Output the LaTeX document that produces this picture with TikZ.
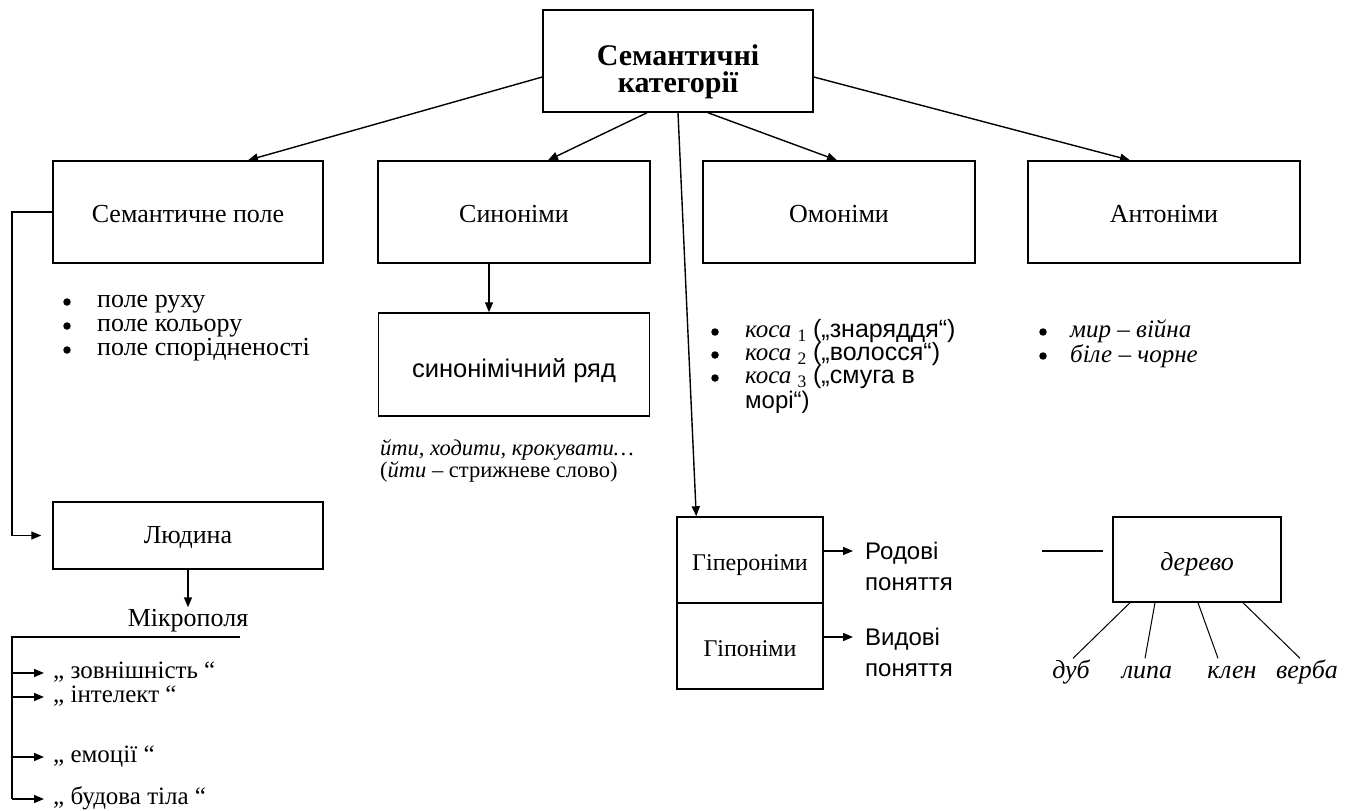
\documentclass[tikz,border=0pt]{standalone}
\usepackage{fontspec}
\setmainfont{Liberation Serif}
\newfontfamily\sansf{Liberation Sans}
\usetikzlibrary{arrows.meta,calc}
\begin{document}
\begin{tikzpicture}[x=1pt,y=-1pt,
  frame/.style={draw,line width=1.5pt,inner sep=0pt},
  lst/.style={inner sep=0pt,text height=16pt,text depth=5pt,font=\fontsize{26}{28}\selectfont},
  boxtxt/.style={text height=21pt,text depth=0pt},
  title/.style={inner sep=0pt,text height=20pt,text depth=6pt,font=\fontsize{30}{30}\selectfont\bfseries},
  sans/.style={lst,font=\fontsize{24}{28}\selectfont\sansf},
  itl/.style={lst,font=\fontsize{26}{28}\selectfont\itshape},
  bul/.style={circle,fill,inner sep=0pt,minimum size=7.5pt},
  arr/.style={line width=1.4pt,-{Triangle[length=10pt,width=8pt]}},
  link/.style={line width=1.4pt},
  twig/.style={line width=1pt}]
\path[fill=white] (0,0) rectangle (1358,811);
\useasboundingbox (0,0) rectangle (1358,811);

% root
\node[frame,minimum width=270pt,minimum height=102pt] (top) at (678,61) {};
\node[title] (topl1) at (678,58) {Семантичні};
\node[title] (topl2) at (678,85) {категорії};

% first row of categories
\node[frame,lst,boxtxt,minimum width=270pt,minimum height=102pt] (sp)  at (188,212)  {Семантичне поле};
\node[frame,lst,boxtxt,minimum width=272pt,minimum height=102pt] (syn) at (514,212)  {Синоніми};
\node[frame,lst,boxtxt,minimum width=272pt,minimum height=102pt] (hom) at (839,212)  {Омоніми};
\node[frame,lst,boxtxt,minimum width=272pt,minimum height=102pt] (ant) at (1164,212) {Антоніми};

\draw[arr] ([yshift=-16pt]top.west) -- ([xshift=60pt]sp.north);
\draw[arr] ([xshift=-31pt]top.south) -- ([xshift=34pt]syn.north);
\draw[arr] ([xshift=30pt]top.south) -- ([xshift=-2pt]hom.north);
\draw[arr] ([yshift=-16pt]top.east) -- ([xshift=-34pt]ant.north);

% semantic field examples
\node[bul] (sb1) at (67,302) {};
\node[bul] (sb2) at (67,326) {};
\node[bul] (sb3) at (67,350) {};
\node[lst,anchor=west] (f1) at (97,302) {поле руху};
\node[lst,anchor=west] (f2) at (97,326) {поле кольору};
\node[lst,anchor=west] (f3) at (97,350) {поле спорідненості};

% the field "Людина" and its microfields
\coordinate (spc) at (12,212);
\node[frame,lst,text height=18pt,text depth=3pt,minimum width=270pt,minimum height=67pt] (lud) at (188,535.5) {Людина};
\draw[arr,shorten >=11pt] (sp.west) -- (spc) |- (lud.west);
\node[lst] (mic) at (188,621) {Мікрополя};
\draw[arr,shorten >=3pt] (lud.south) -- (mic.north);

\coordinate (mk) at (12,637);
\coordinate (mkr) at (240,637);
\node[lst,anchor=west,font=\fontsize{25}{28}\selectfont] (m1) at (53,673) {„ зовнішність “};
\node[lst,anchor=west,font=\fontsize{25}{28}\selectfont] (m2) at (53,697) {„ інтелект “};
\node[lst,anchor=west,font=\fontsize{25}{28}\selectfont] (m3) at (53,757) {„ емоції “};
\node[lst,anchor=west,font=\fontsize{25}{28}\selectfont] (m4) at (53,799) {„ будова тіла “};
\draw[link] (mkr) -- (mk) -- (mk |- m4.west);
\foreach \m in {m1,m2,m3,m4}
  \draw[arr,shorten >=9pt] (mk |- \m.west) -- (\m.west);

% synonyms
\node[frame,sans,font=\fontsize{25.5}{28}\selectfont\sansf,text height=25pt,text depth=0pt,
      minimum width=271pt,minimum height=103pt] (row) at (514,364.5) {синонімічний ряд};
\draw[arr] ([xshift=-25pt]syn.south) -- ([xshift=-25pt]row.north);
\node[anchor=north west,inner sep=0pt,align=left,font=\fontsize{22.5}{20}\selectfont] (ex) at (380,439)
  {\textit{йти, ходити, крокувати…}\\(\textit{йти} – стрижневе слово)};

% homonyms
\node[bul] (ob1) at (715,332) {};
\node[bul] (ob2) at (715,355) {};
\node[bul] (ob3) at (715,378) {};
\node[lst,anchor=west,font=\fontsize{25}{28}\selectfont] (o1) at (745,332)
  {\textit{коса}~\textsubscript{1} {\sansf(„знаряддя“)}};
\node[lst,anchor=west,font=\fontsize{25}{28}\selectfont] (o2) at (745,355)
  {\textit{коса}~\textsubscript{2} {\sansf(„волосся“)}};
\node[lst,anchor=west,font=\fontsize{25}{28}\selectfont] (o3) at (745,378)
  {\textit{коса}~\textsubscript{3} {\sansf(„смуга в}};
\node[sans,anchor=west] (o4) at (745,403) {морі“)};

% antonyms
\node[bul] (ab1) at (1043,332) {};
\node[bul] (ab2) at (1043,356) {};
\node[itl,font=\fontsize{25}{28}\selectfont\itshape,anchor=west] (a1) at (1070,332) {мир – війна};
\node[itl,font=\fontsize{25}{28}\selectfont\itshape,anchor=west] (a2) at (1070,357) {біле – чорне};

% hyperonyms and hyponyms
\node[frame,lst,boxtxt,font=\fontsize{24}{28}\selectfont,minimum width=146pt,minimum height=86pt] (hyper) at (750,560) {Гіпероніми};
\node[frame,lst,boxtxt,font=\fontsize{24}{28}\selectfont,minimum width=146pt,minimum height=86pt] (hypo)  at (750,646) {Гіпоніми};
\draw[arr] (top.south) -- ([xshift=20pt]hyper.north west);

\node[sans,anchor=west] (r1) at (865,554) {Родові};
\node[sans,anchor=west] (r2) at (865,585) {поняття};
\node[sans,anchor=west] (v1) at (865,640) {Видові};
\node[sans,anchor=west] (v2) at (865,671) {поняття};
\draw[arr,shorten >=12pt] ($(hyper.east)+(0,-9)$) -- ($(hyper.east -| r1.west)+(0,-9)$);
\draw[arr,shorten >=12pt] ($(hypo.east)+(0,-9)$) -- ($(hypo.east -| v1.west)+(0,-9)$);

% example tree
\node[frame,itl,boxtxt,minimum width=168pt,minimum height=85pt] (der) at (1197,559.5) {дерево};
\coordinate (dl) at (1042,551);
\coordinate (dr) at (1103,551);
\draw[link] (dl) -- (dr);
\node[itl] (dub)   at (1071,673) {дуб};
\node[itl] (lipa)  at (1147,673) {липа};
\node[itl] (klen)  at (1232,673) {клен};
\node[itl] (verba) at (1307,673) {верба};
\draw[twig] ([xshift=-67pt]der.south) -- ([xshift=2pt,yshift=4pt]dub.north);
\draw[twig] ([xshift=-42pt]der.south) -- ([xshift=-2pt,yshift=4pt]lipa.north);
\draw[twig] ([xshift=1pt]der.south)   -- ([xshift=-14pt,yshift=4pt]klen.north);
\draw[twig] ([xshift=46pt]der.south)  -- ([xshift=-7pt,yshift=4pt]verba.north);
\end{tikzpicture}
\end{document}
